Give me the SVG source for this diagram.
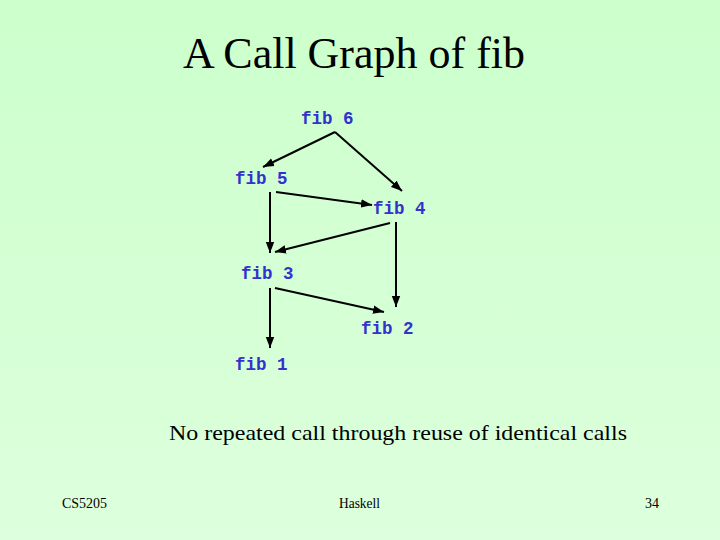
<svg xmlns="http://www.w3.org/2000/svg" width="720" height="540" viewBox="0 0 720 540">
  <defs>
    <linearGradient id="bg" x1="0" y1="0" x2="0" y2="1">
      <stop offset="0" stop-color="#ccffcc"/>
      <stop offset="1" stop-color="#ddffdd"/>
    </linearGradient>
    <marker id="arr" markerUnits="userSpaceOnUse" markerWidth="12" markerHeight="10" viewBox="0 0 12 10" refX="11" refY="5" orient="auto">
      <path d="M0,0.8 L11,5 L0,9.2 Z" fill="#000"/>
    </marker>
  </defs>
  <style>
    .node { font-family: 'Liberation Mono', 'Courier New', 'DejaVu Sans Mono', monospace; font-weight: bold; font-size: 17.5px; fill: #3333cc; }
    .title { font-family: 'Liberation Serif', 'Times New Roman', 'DejaVu Serif', serif; fill: #000; }
    .foot { font-family: 'Liberation Serif', 'Times New Roman', 'DejaVu Serif', serif; font-size: 14px; fill: #000; }
    .edge { stroke: #000; stroke-width: 2; fill: none; marker-end: url(#arr); }
  </style>
  <rect x="0" y="0" width="720" height="540" fill="url(#bg)"/>
  <text class="title" x="183" y="68" font-size="44" textLength="342" lengthAdjust="spacingAndGlyphs">A Call Graph of fib</text>

  <g id="connectors">
    <line class="edge" x1="335" y1="132" x2="263" y2="167"/>
    <line class="edge" x1="335" y1="132" x2="402" y2="191"/>
    <line class="edge" x1="276" y1="192" x2="372" y2="205"/>
    <line class="edge" x1="270" y1="192" x2="270" y2="253"/>
    <line class="edge" x1="390" y1="223" x2="275" y2="252"/>
    <line class="edge" x1="396" y1="222" x2="396" y2="307"/>
    <line class="edge" x1="275" y1="288" x2="384" y2="312"/>
    <line class="edge" x1="270" y1="288" x2="270" y2="348"/>
  </g>

  <g id="fib6"><text class="node" x="301" y="124">fib 6</text></g>
  <g id="fib5"><text class="node" x="235" y="184">fib 5</text></g>
  <g id="fib4"><text class="node" x="373" y="214">fib 4</text></g>
  <g id="fib3"><text class="node" x="241" y="279">fib 3</text></g>
  <g id="fib2"><text class="node" x="361" y="334">fib 2</text></g>
  <g id="fib1"><text class="node" x="235" y="370">fib 1</text></g>

  <text class="title" x="169" y="440" font-size="22" textLength="458" lengthAdjust="spacingAndGlyphs">No repeated call through reuse of identical calls</text>

  <text class="foot" x="62" y="508" textLength="45" lengthAdjust="spacingAndGlyphs">CS5205</text>
  <text class="foot" x="339" y="508" textLength="41" lengthAdjust="spacingAndGlyphs">Haskell</text>
  <text class="foot" x="645" y="508">34</text>
</svg>
